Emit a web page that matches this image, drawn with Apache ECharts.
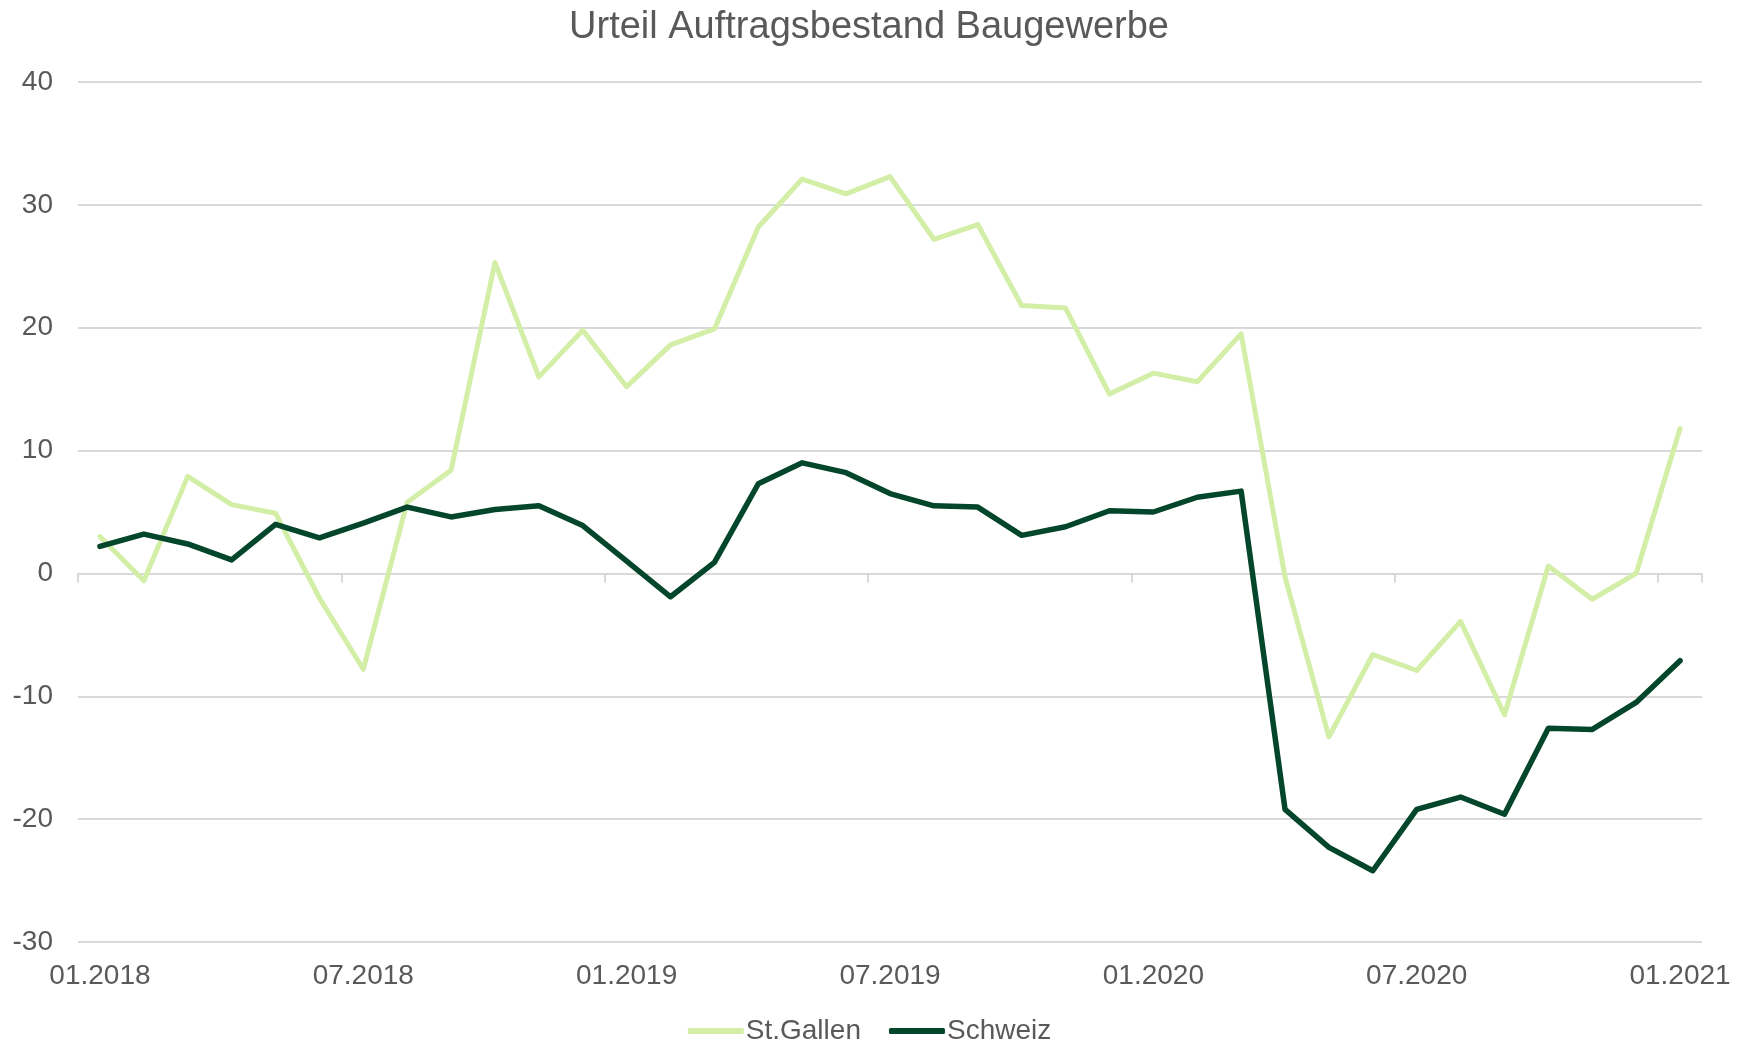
<!DOCTYPE html>
<html>
<head>
<meta charset="utf-8">
<script src="https://cdn.jsdelivr.net/npm/echarts@6/dist/echarts.min.js"></script>
<style>
  html, body { margin: 0; padding: 0; background: #fff; }
  #chart { width: 1739px; height: 1042px; }
</style>
</head>
<body>
<div id="chart"></div>
<script>
// Monatskategorien 01.2018 - 01.2021
const months = [
  '01.2018', '02.2018', '03.2018', '04.2018', '05.2018', '06.2018',
  '07.2018', '08.2018', '09.2018', '10.2018', '11.2018', '12.2018',
  '01.2019', '02.2019', '03.2019', '04.2019', '05.2019', '06.2019',
  '07.2019', '08.2019', '09.2019', '10.2019', '11.2019', '12.2019',
  '01.2020', '02.2020', '03.2020', '04.2020', '05.2020', '06.2020',
  '07.2020', '08.2020', '09.2020', '10.2020', '11.2020', '12.2020',
  '01.2021'
]

const stGallen = [
  3.0, -0.6, 7.9, 5.6, 4.9, -2.0,
  -7.8, 5.8, 8.4, 25.3, 16.0, 19.8,
  15.2, 18.6, 19.9, 28.2, 32.1, 30.9,
  32.3, 27.2, 28.4, 21.8, 21.6, 14.6,
  16.3, 15.6, 19.5, -0.3, -13.3, -6.6,
  -7.9, -3.9, -11.5, 0.6, -2.1, 0.0,
  11.8
]

const schweiz = [
  2.2, 3.2, 2.4, 1.1, 4.0, 2.9,
  4.1, 5.4, 4.6, 5.2, 5.5, 3.9,
  1.0, -1.9, 0.9, 7.3, 9.0, 8.2,
  6.5, 5.5, 5.4, 3.1, 3.8, 5.1,
  5.0, 6.2, 6.7, -19.2, -22.3, -24.2,
  -19.2, -18.2, -19.6, -12.6, -12.7, -10.5,
  -7.1
]

const yTicks = { min: -30, max: 40, interval: 10 }

const TEXT = '#595959'
const GRID = '#d9d9d9'
const LIGHT = '#d3eea6'
const DARK = '#03462b'
const FONT = '"Liberation Sans", Arial, sans-serif'

const chart = echarts.init(document.getElementById('chart'))

const option = {
  backgroundColor: '#ffffff',
  animation: false,
  textStyle: { fontFamily: FONT },
  title: {
    text: 'Urteil Auftragsbestand Baugewerbe',
    left: 864,
    textAlign: 'center',
    top: 4,
    textStyle: { color: TEXT, fontSize: 38, fontWeight: 'normal', fontFamily: FONT },
  },
  legend: {
    top: 1017,
    left: 'center',
    padding: 0,
    itemGap: 28,
    itemWidth: 56,
    itemHeight: 6,
    icon: 'roundRect',
    textStyle: { color: TEXT, fontSize: 28, fontFamily: FONT, padding: [0, 0, 0, -3] },
    data: ['St.Gallen', 'Schweiz'],
  },
  grid: {
    left: 78,
    right: 37,
    top: 82,
    bottom: 100,
    containLabel: false,
  },
  xAxis: [
    {
      // Achsenlinie auf der Nulllinie
      type: 'category',
      data: months,
      boundaryGap: true,
      axisLine: { onZero: true, lineStyle: { color: GRID, width: 2 } },
      axisTick: { show: true, interval: 5, length: 9, lineStyle: { color: GRID, width: 2 } },
      axisLabel: { show: false },
      splitLine: { show: false },
    },
    {
      // Beschriftung unten
      type: 'category',
      data: months,
      position: 'bottom',
      boundaryGap: true,
      axisLine: { show: false, onZero: false },
      axisTick: { show: false },
      axisLabel: { interval: 5, color: TEXT, fontSize: 28, fontFamily: FONT, margin: 20 },
      splitLine: { show: false },
    },
  ],
  yAxis: {
    type: 'value',
    min: yTicks.min,
    max: yTicks.max,
    interval: yTicks.interval,
    axisLine: { show: false },
    axisTick: { show: false },
    axisLabel: { color: TEXT, fontSize: 28, fontFamily: FONT, margin: 25 },
    splitLine: { lineStyle: { color: GRID, width: 2 } },
  },
  series: [
    {
      name: 'St.Gallen',
      type: 'line',
      xAxisIndex: 0,
      data: stGallen,
      symbol: 'none',
      lineStyle: { color: LIGHT, width: 5, cap: 'round', join: 'round' },
      itemStyle: { color: LIGHT },
    },
    {
      name: 'Schweiz',
      type: 'line',
      xAxisIndex: 0,
      data: schweiz,
      symbol: 'none',
      lineStyle: { color: DARK, width: 5.5, cap: 'round', join: 'round' },
      itemStyle: { color: DARK },
    },
  ],
}

chart.setOption(option)
</script>
</body>
</html>
